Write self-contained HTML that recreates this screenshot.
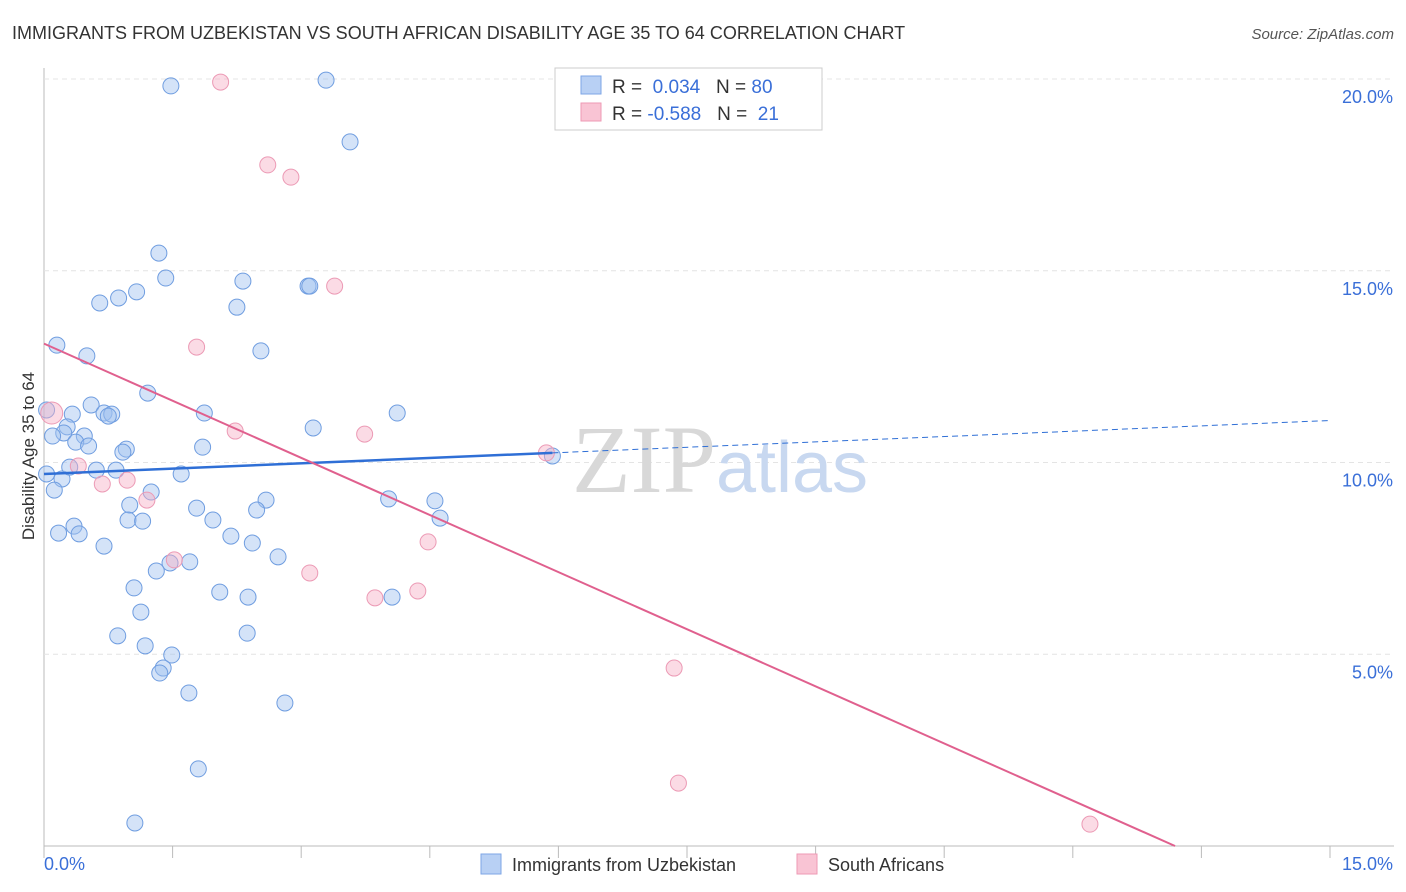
<!DOCTYPE html>
<html><head><meta charset="utf-8">
<style>
body{margin:0;background:#fff;font-family:"Liberation Sans",sans-serif;}
#wrap{position:relative;width:1406px;height:892px;overflow:hidden}
</style></head>
<body>
<div id="wrap">
<svg id="chart" width="1406" height="892" xmlns="http://www.w3.org/2000/svg">
<text x="12" y="39" font-size="18" fill="#333">IMMIGRANTS FROM UZBEKISTAN VS SOUTH AFRICAN DISABILITY AGE 35 TO 64 CORRELATION CHART</text>
<text x="1394" y="39" font-size="15" fill="#555" font-style="italic" text-anchor="end">Source: ZipAtlas.com</text>
<text x="34" y="456" font-size="17" fill="#333" text-anchor="middle" transform="rotate(-90 34 456)">Disability Age 35 to 64</text>
<g id="grid"></g>
<text x="720" y="492" font-size="96" fill="#ddd" text-anchor="middle" font-family="Liberation Serif,serif"><tspan fill="#d8d8d8">ZIP</tspan><tspan fill="#c8d8f0" font-family="Liberation Sans,sans-serif" font-size="72">atlas</tspan></text>
<g id="pts"></g>
<g id="trend"></g>
<g>
<rect x="555" y="68" width="267" height="62" fill="#fff" stroke="#ccc"/>
<rect x="581" y="76" width="20" height="18" fill="#b8d0f4" stroke="#7ea6e6"/>
<rect x="581" y="103" width="20" height="18" fill="#f9c4d4" stroke="#ee9ab4"/>
<text x="612" y="93" font-size="19" fill="#333">R = <tspan fill="#3a6fd8">&#160;0.034</tspan>&#160;&#160;&#160;N = <tspan fill="#3a6fd8">80</tspan></text>
<text x="612" y="120" font-size="19" fill="#333">R = <tspan fill="#3a6fd8">-0.588</tspan>&#160;&#160;&#160;N = <tspan fill="#3a6fd8">&#160;21</tspan></text>
</g>
<g>
<rect x="481" y="854" width="20" height="20" fill="#b8d0f4" stroke="#7ea6e6"/>
<text x="512" y="871" font-size="18" fill="#333">Immigrants from Uzbekistan</text>
<rect x="797" y="854" width="20" height="20" fill="#f9c4d4" stroke="#ee9ab4"/>
<text x="828" y="871" font-size="18" fill="#333">South Africans</text>
</g>
</svg>
</div>
<script>
const xTicks=[0,1.5,3,4.5,6,7.5,9,10.5,12,13.5,15];
const yTicks=[5,10,15,20];
const yTickLabels=["5.0%","10.0%","15.0%","20.0%"];
const blueX=[1.48,3.29,3.57,1.34,1.42,2.32,3.08,3.10,0.65,0.87,1.08,2.25,0.15,0.50,2.53,1.21,0.03,0.55,0.33,0.70,0.79,0.75,1.87,4.12,0.27,0.23,0.10,0.47,0.37,0.52,3.14,0.96,0.92,1.85,5.93,0.03,0.21,0.30,0.61,0.84,1.60,0.12,1.25,1.00,2.59,4.02,4.56,1.78,2.48,0.98,1.15,1.97,4.62,0.35,0.17,0.41,2.18,2.43,0.70,2.73,1.70,1.47,1.31,1.05,2.05,2.38,4.06,1.13,0.86,2.37,1.18,1.49,1.39,1.35,1.69,2.81,1.80,1.06];
const blueY=[19.82,19.97,18.36,15.46,14.81,14.73,14.60,14.60,14.16,14.29,14.45,14.05,13.06,12.78,12.91,11.81,11.37,11.50,11.26,11.29,11.26,11.21,11.29,11.29,10.93,10.77,10.69,10.69,10.53,10.43,10.90,10.35,10.27,10.40,10.17,9.70,9.57,9.88,9.80,9.80,9.70,9.28,9.23,8.89,9.02,9.05,9.00,8.81,8.76,8.50,8.47,8.50,8.55,8.34,8.16,8.14,8.08,7.90,7.82,7.54,7.41,7.38,7.17,6.73,6.62,6.49,6.49,6.10,5.48,5.55,5.22,4.98,4.64,4.51,3.99,3.73,2.01,0.60];
const pinkX=[2.06,2.61,2.88,3.39,1.78,2.23,3.74,5.86,0.40,0.68,0.97,1.20,1.52,3.10,4.48,3.86,4.36,7.35,7.40,12.20,0.09];
const pinkY=[19.92,17.76,17.44,14.60,13.01,10.82,10.74,10.25,9.91,9.44,9.54,9.02,7.46,7.12,7.93,6.47,6.65,4.64,1.64,0.57,11.29];
const blueTrend=[9.7,0.093];   // intercept, slope
const pinkTrend=[13.1,-0.993];
const blueSolidEnd=5.93;

const NS="http://www.w3.org/2000/svg";
const X0=44,X1=1330,Y0=846,Ytop=79;
const sx=v=>X0+(v-0)/15*(X1-X0);
const sy=v=>Y0-v/20*(Y0-Ytop);
function mk(t,a,p){const e=document.createElementNS(NS,t);for(const k in a)e.setAttribute(k,a[k]);p.appendChild(e);return e;}
const grid=document.getElementById('grid');
const ax=mk('line',{x1:X0,y1:Y0,x2:1394,y2:Y0,stroke:'#bbb'},grid);


const ay=mk('line',{x1:X0,y1:68,x2:X0,y2:Y0,stroke:'#bbb'},grid);


xTicks.forEach(t=>{const l=mk('line',{x1:sx(t),y1:Y0,x2:sx(t),y2:Y0+12,stroke:'#bbb'},grid);

});
yTicks.forEach((t,i)=>{const l=mk('line',{x1:X0,y1:sy(t),x2:1394,y2:sy(t),stroke:'#e4e4e4','stroke-dasharray':'5,4'},grid);


const tx=mk('text',{x:1393,y:sy(t)+24,'font-size':18,fill:'#3a6fd8','text-anchor':'end'},grid);tx.textContent=yTickLabels[i];

});
const xl=mk('text',{x:44,y:870,'font-size':18,fill:'#3a6fd8'},grid);xl.textContent='0.0%';


const xr=mk('text',{x:1393,y:870,'font-size':18,fill:'#3a6fd8','text-anchor':'end'},grid);xr.textContent='15.0%';


const pts=document.getElementById('pts');
blueX.forEach((x,i)=>{const c=mk('circle',{cx:sx(x),cy:sy(blueY[i]),r:8,fill:'rgba(160,194,240,0.45)',stroke:'#6f9de0','stroke-width':1},pts);

});
pinkX.forEach((x,i)=>{const c=mk('circle',{cx:sx(x),cy:sy(pinkY[i]),r:i==pinkX.length-1?11:8,fill:'rgba(246,176,198,0.45)',stroke:'#ec9ab5','stroke-width':1},pts);

});
const tr=document.getElementById('trend');
const bf=x=>blueTrend[0]+blueTrend[1]*x, pf=x=>pinkTrend[0]+pinkTrend[1]*x;
const b1=mk('line',{x1:sx(0),y1:sy(bf(0)),x2:sx(blueSolidEnd),y2:sy(bf(blueSolidEnd)),stroke:'#2f6fd6','stroke-width':2.5},tr);


const b2=mk('line',{x1:sx(blueSolidEnd),y1:sy(bf(blueSolidEnd)),x2:sx(15),y2:sy(bf(15)),stroke:'#2f6fd6','stroke-width':1,'stroke-dasharray':'6,4'},tr);


const xz=-pinkTrend[0]/pinkTrend[1];
const p1=mk('line',{x1:sx(0),y1:sy(pf(0)),x2:sx(xz),y2:sy(0),stroke:'#e0608e','stroke-width':2},tr);


</script>
</body></html>
